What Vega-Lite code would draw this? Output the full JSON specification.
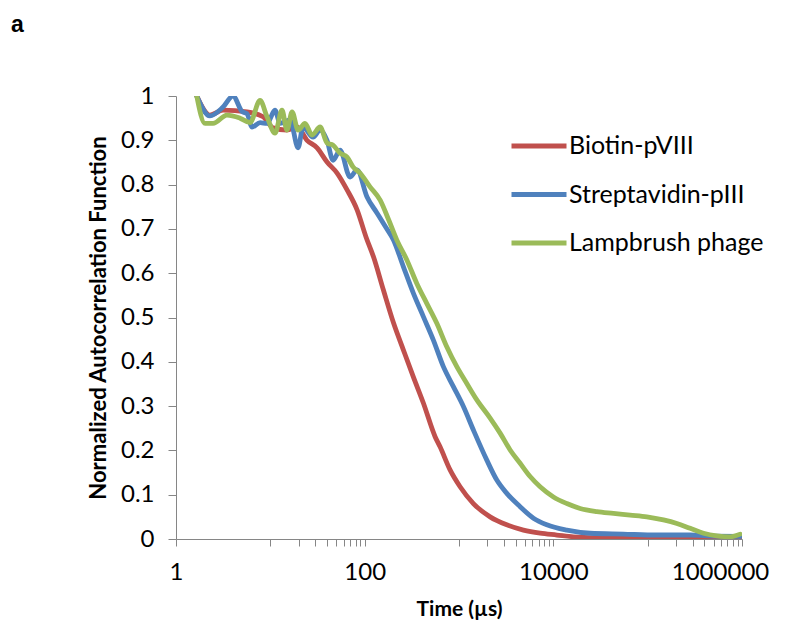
{
  "$schema": "https://vega.github.io/schema/vega-lite/v6.json",
  "width": 566,
  "height": 443,
  "autosize": {"type": "none"},
  "padding": {"left": 176, "top": 96, "right": 50, "bottom": 90},
  "background": "white",
  "title": {"text": "a", "anchor": "start", "frame": "group", "dx": -165, "offset": 47, "font": "Liberation Sans", "fontSize": 23, "fontWeight": "bold", "color": "black"},
  "config": {"view": {"stroke": null}},
  "data": {"values": [
    {"s": "Biotin-pVIII", "t": 1.66, "g": 1.0},
    {"s": "Biotin-pVIII", "t": 2.29, "g": 0.957},
    {"s": "Biotin-pVIII", "t": 3.15, "g": 0.968},
    {"s": "Biotin-pVIII", "t": 5.66, "g": 0.964},
    {"s": "Biotin-pVIII", "t": 8.37, "g": 0.953},
    {"s": "Biotin-pVIII", "t": 10.7, "g": 0.928},
    {"s": "Biotin-pVIII", "t": 15.0, "g": 0.923},
    {"s": "Biotin-pVIII", "t": 19.2, "g": 0.93},
    {"s": "Biotin-pVIII", "t": 24.5, "g": 0.9},
    {"s": "Biotin-pVIII", "t": 31.3, "g": 0.883},
    {"s": "Biotin-pVIII", "t": 39.9, "g": 0.851},
    {"s": "Biotin-pVIII", "t": 51.0, "g": 0.826},
    {"s": "Biotin-pVIII", "t": 65.1, "g": 0.788},
    {"s": "Biotin-pVIII", "t": 83.1, "g": 0.743},
    {"s": "Biotin-pVIII", "t": 104, "g": 0.68},
    {"s": "Biotin-pVIII", "t": 124, "g": 0.637},
    {"s": "Biotin-pVIII", "t": 158, "g": 0.562},
    {"s": "Biotin-pVIII", "t": 202, "g": 0.488},
    {"s": "Biotin-pVIII", "t": 257, "g": 0.427},
    {"s": "Biotin-pVIII", "t": 328, "g": 0.366},
    {"s": "Biotin-pVIII", "t": 419, "g": 0.307},
    {"s": "Biotin-pVIII", "t": 558, "g": 0.231},
    {"s": "Biotin-pVIII", "t": 630, "g": 0.208},
    {"s": "Biotin-pVIII", "t": 804, "g": 0.156},
    {"s": "Biotin-pVIII", "t": 1027, "g": 0.118},
    {"s": "Biotin-pVIII", "t": 1421, "g": 0.08},
    {"s": "Biotin-pVIII", "t": 2137, "g": 0.05},
    {"s": "Biotin-pVIII", "t": 3213, "g": 0.032},
    {"s": "Biotin-pVIII", "t": 4818, "g": 0.02},
    {"s": "Biotin-pVIII", "t": 7244, "g": 0.013},
    {"s": "Biotin-pVIII", "t": 10890, "g": 0.009},
    {"s": "Biotin-pVIII", "t": 16340, "g": 0.005},
    {"s": "Biotin-pVIII", "t": 30000, "g": 0.003},
    {"s": "Biotin-pVIII", "t": 100000, "g": 0.002},
    {"s": "Biotin-pVIII", "t": 300000, "g": 0.001},
    {"s": "Biotin-pVIII", "t": 1000000, "g": 0.001},
    {"s": "Streptavidin-pIII", "t": 1.66, "g": 1.0},
    {"s": "Streptavidin-pIII", "t": 2.29, "g": 0.955},
    {"s": "Streptavidin-pIII", "t": 3.15, "g": 0.975},
    {"s": "Streptavidin-pIII", "t": 4.02, "g": 1.0},
    {"s": "Streptavidin-pIII", "t": 5.01, "g": 0.965},
    {"s": "Streptavidin-pIII", "t": 5.66, "g": 0.96},
    {"s": "Streptavidin-pIII", "t": 6.4, "g": 0.93},
    {"s": "Streptavidin-pIII", "t": 7.78, "g": 0.94},
    {"s": "Streptavidin-pIII", "t": 9.23, "g": 0.938},
    {"s": "Streptavidin-pIII", "t": 11.2, "g": 0.968},
    {"s": "Streptavidin-pIII", "t": 12.7, "g": 0.938},
    {"s": "Streptavidin-pIII", "t": 16.2, "g": 0.946},
    {"s": "Streptavidin-pIII", "t": 19.7, "g": 0.883},
    {"s": "Streptavidin-pIII", "t": 22.2, "g": 0.93},
    {"s": "Streptavidin-pIII", "t": 28.4, "g": 0.907},
    {"s": "Streptavidin-pIII", "t": 33.7, "g": 0.923},
    {"s": "Streptavidin-pIII", "t": 39.9, "g": 0.9},
    {"s": "Streptavidin-pIII", "t": 46.2, "g": 0.855},
    {"s": "Streptavidin-pIII", "t": 54.8, "g": 0.878},
    {"s": "Streptavidin-pIII", "t": 70.0, "g": 0.817},
    {"s": "Streptavidin-pIII", "t": 83.1, "g": 0.833},
    {"s": "Streptavidin-pIII", "t": 106, "g": 0.772},
    {"s": "Streptavidin-pIII", "t": 135, "g": 0.736},
    {"s": "Streptavidin-pIII", "t": 165, "g": 0.706},
    {"s": "Streptavidin-pIII", "t": 202, "g": 0.675},
    {"s": "Streptavidin-pIII", "t": 257, "g": 0.615},
    {"s": "Streptavidin-pIII", "t": 328, "g": 0.555},
    {"s": "Streptavidin-pIII", "t": 419, "g": 0.502},
    {"s": "Streptavidin-pIII", "t": 535, "g": 0.449},
    {"s": "Streptavidin-pIII", "t": 683, "g": 0.389},
    {"s": "Streptavidin-pIII", "t": 872, "g": 0.344},
    {"s": "Streptavidin-pIII", "t": 1114, "g": 0.299},
    {"s": "Streptavidin-pIII", "t": 1421, "g": 0.246},
    {"s": "Streptavidin-pIII", "t": 1972, "g": 0.178},
    {"s": "Streptavidin-pIII", "t": 2517, "g": 0.133},
    {"s": "Streptavidin-pIII", "t": 3213, "g": 0.103},
    {"s": "Streptavidin-pIII", "t": 4446, "g": 0.073},
    {"s": "Streptavidin-pIII", "t": 6152, "g": 0.047},
    {"s": "Streptavidin-pIII", "t": 8533, "g": 0.032},
    {"s": "Streptavidin-pIII", "t": 13910, "g": 0.02},
    {"s": "Streptavidin-pIII", "t": 24560, "g": 0.013},
    {"s": "Streptavidin-pIII", "t": 54980, "g": 0.011},
    {"s": "Streptavidin-pIII", "t": 125200, "g": 0.009},
    {"s": "Streptavidin-pIII", "t": 282300, "g": 0.009},
    {"s": "Streptavidin-pIII", "t": 424500, "g": 0.007},
    {"s": "Streptavidin-pIII", "t": 957000, "g": 0.006},
    {"s": "Lampbrush phage", "t": 1.66, "g": 1.0},
    {"s": "Lampbrush phage", "t": 2.03, "g": 0.938},
    {"s": "Lampbrush phage", "t": 2.47, "g": 0.938},
    {"s": "Lampbrush phage", "t": 3.47, "g": 0.957},
    {"s": "Lampbrush phage", "t": 4.77, "g": 0.95},
    {"s": "Lampbrush phage", "t": 6.09, "g": 0.94},
    {"s": "Lampbrush phage", "t": 7.78, "g": 0.99},
    {"s": "Lampbrush phage", "t": 9.23, "g": 0.953},
    {"s": "Lampbrush phage", "t": 11.2, "g": 0.916},
    {"s": "Lampbrush phage", "t": 13.3, "g": 0.968},
    {"s": "Lampbrush phage", "t": 15.0, "g": 0.923},
    {"s": "Lampbrush phage", "t": 17.0, "g": 0.964},
    {"s": "Lampbrush phage", "t": 19.7, "g": 0.923},
    {"s": "Lampbrush phage", "t": 23.3, "g": 0.938},
    {"s": "Lampbrush phage", "t": 27.7, "g": 0.912},
    {"s": "Lampbrush phage", "t": 33.7, "g": 0.93},
    {"s": "Lampbrush phage", "t": 39.9, "g": 0.894},
    {"s": "Lampbrush phage", "t": 46.2, "g": 0.889},
    {"s": "Lampbrush phage", "t": 54.8, "g": 0.871},
    {"s": "Lampbrush phage", "t": 65.1, "g": 0.862},
    {"s": "Lampbrush phage", "t": 75.3, "g": 0.84},
    {"s": "Lampbrush phage", "t": 89.4, "g": 0.826},
    {"s": "Lampbrush phage", "t": 114, "g": 0.795},
    {"s": "Lampbrush phage", "t": 146, "g": 0.765},
    {"s": "Lampbrush phage", "t": 180, "g": 0.72},
    {"s": "Lampbrush phage", "t": 219, "g": 0.675},
    {"s": "Lampbrush phage", "t": 280, "g": 0.63},
    {"s": "Lampbrush phage", "t": 357, "g": 0.577},
    {"s": "Lampbrush phage", "t": 455, "g": 0.532},
    {"s": "Lampbrush phage", "t": 582, "g": 0.487},
    {"s": "Lampbrush phage", "t": 742, "g": 0.434},
    {"s": "Lampbrush phage", "t": 948, "g": 0.389},
    {"s": "Lampbrush phage", "t": 1210, "g": 0.351},
    {"s": "Lampbrush phage", "t": 1545, "g": 0.314},
    {"s": "Lampbrush phage", "t": 2137, "g": 0.273},
    {"s": "Lampbrush phage", "t": 2728, "g": 0.239},
    {"s": "Lampbrush phage", "t": 3483, "g": 0.201},
    {"s": "Lampbrush phage", "t": 4446, "g": 0.171},
    {"s": "Lampbrush phage", "t": 5675, "g": 0.141},
    {"s": "Lampbrush phage", "t": 7244, "g": 0.118},
    {"s": "Lampbrush phage", "t": 10025, "g": 0.095},
    {"s": "Lampbrush phage", "t": 13910, "g": 0.08},
    {"s": "Lampbrush phage", "t": 19240, "g": 0.069},
    {"s": "Lampbrush phage", "t": 28920, "g": 0.062},
    {"s": "Lampbrush phage", "t": 43390, "g": 0.058},
    {"s": "Lampbrush phage", "t": 65220, "g": 0.054},
    {"s": "Lampbrush phage", "t": 98060, "g": 0.05},
    {"s": "Lampbrush phage", "t": 147100, "g": 0.043},
    {"s": "Lampbrush phage", "t": 204000, "g": 0.035},
    {"s": "Lampbrush phage", "t": 282300, "g": 0.024},
    {"s": "Lampbrush phage", "t": 390700, "g": 0.013},
    {"s": "Lampbrush phage", "t": 541900, "g": 0.007},
    {"s": "Lampbrush phage", "t": 749800, "g": 0.005},
    {"s": "Lampbrush phage", "t": 957000, "g": 0.011}
  ]},
  "mark": {"type": "line", "strokeWidth": 4.8, "strokeJoin": "round", "strokeCap": "round", "interpolate": "monotone", "clip": true},
  "encoding": {
    "x": {
      "field": "t", "type": "quantitative",
      "scale": {"type": "log", "domain": [1, 1000000], "nice": false},
      "axis": {
        "title": "Time (µs)",
        "values": [1, 10, 20, 30, 40, 50, 60, 70, 80, 90, 100, 1000, 2000, 3000, 4000, 5000, 6000, 7000, 8000, 9000, 10000, 100000, 200000, 300000, 400000, 500000, 600000, 700000, 800000, 900000, 1000000],
        "labelExpr": "indexof([1, 100, 10000, 1000000], datum.value) >= 0 ? format(datum.value, 'd') : ''",
        "grid": false,
        "tickSize": 7,
        "tickColor": "#868686",
        "domainColor": "#868686",
        "labelFont": "Lato",
        "labelFontSize": 24,
        "labelColor": "black",
        "labelPadding": 14,
        "labelOverlap": false,
        "labelFlush": false,
        "labelBound": false,
        "labelOffset": {"condition": {"test": "datum.value == 1000000", "value": -22}, "value": 0},
        "titleFont": "Lato",
        "titleFontSize": 21,
        "titleFontWeight": "bold",
        "titleColor": "black",
        "titlePadding": 14
      }
    },
    "y": {
      "field": "g", "type": "quantitative",
      "scale": {"domain": [0, 1], "nice": false, "zero": true},
      "axis": {
        "title": "Normalized Autocorrelation Function",
        "values": [0, 0.1, 0.2, 0.3, 0.4, 0.5, 0.6, 0.7, 0.8, 0.9, 1],
        "format": "~g",
        "grid": false,
        "tickSize": 8,
        "tickColor": "#868686",
        "domainColor": "#868686",
        "labelFont": "Lato",
        "labelFontSize": 24,
        "labelColor": "black",
        "labelPadding": 14,
        "titleFont": "Lato",
        "titleFontSize": 22,
        "titleFontWeight": "bold",
        "titleColor": "black",
        "titlePadding": 10
      }
    },
    "color": {
      "field": "s", "type": "nominal",
      "scale": {"domain": ["Biotin-pVIII", "Streptavidin-pIII", "Lampbrush phage"], "range": ["#C0504D", "#4F81BD", "#9BBB59"]},
      "legend": {
        "title": null,
        "orient": "none",
        "legendX": 333,
        "legendY": 20,
        "symbolType": "stroke",
        "symbolSize": 3025,
        "symbolStrokeWidth": 4.8,
        "labelFont": "Lato",
        "labelFontSize": 25,
        "labelColor": "black",
        "labelLimit": 0,
        "labelOffset": 0,
        "rowPadding": 5.5
      }
    }
  }
}
